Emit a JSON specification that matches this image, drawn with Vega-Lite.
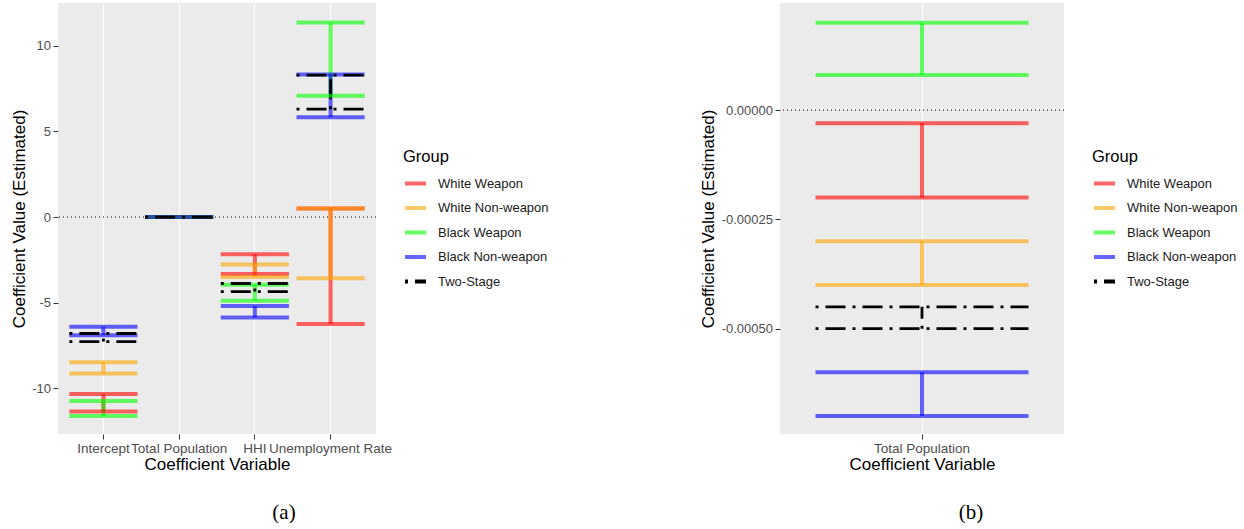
{
  "$schema": "https://vega.github.io/schema/vega-lite/v6.json",
  "background": "white",
  "padding": {"left": 10, "top": 3, "right": 0, "bottom": 0},
  "config": {
    "font": "Liberation Sans",
    "view": {"fill": "#EBEBEB", "stroke": null},
    "axis": {"domain": false, "gridColor": "white", "tickColor": "#333333", "tickSize": 5, "tickWidth": 1, "labelColor": "#4D4D4D", "labelFontSize": 13, "labelPadding": 2.5, "titleColor": "#000000", "titleFontSize": 17, "titleFontWeight": "normal", "titlePadding": 3.5},
    "axisX": {"labelFontSize": 13.5, "titlePadding": 1},
    "legend": {"orient": "none", "symbolType": "stroke", "symbolSize": 441, "symbolStrokeWidth": 4, "labelFontSize": 13, "labelColor": "#1A1A1A", "titleFontSize": 16.5, "titleFontWeight": "normal", "titleColor": "#000000", "rowPadding": 3.5, "titlePadding": 5.5, "padding": 0, "labelOffset": 10, "legendY": 146},
    "title": {"font": "Liberation Serif", "fontSize": 21, "fontWeight": "normal", "color": "#000000"}
  },
  "datasets": {
    "a": [
      {"variable": "Intercept", "group": "White Weapon", "lo": -11.35, "hi": -10.33},
      {"variable": "Intercept", "group": "White Non-weapon", "lo": -9.14, "hi": -8.48},
      {"variable": "Intercept", "group": "Black Weapon", "lo": -11.62, "hi": -10.74},
      {"variable": "Intercept", "group": "Black Non-weapon", "lo": -6.9, "hi": -6.41},
      {"variable": "Intercept", "group": "Two-Stage", "lo": -7.27, "hi": -6.8},
      {"variable": "Total Population", "group": "White Weapon", "lo": -0.0002, "hi": -0.00003},
      {"variable": "Total Population", "group": "White Non-weapon", "lo": -0.0004, "hi": -0.0003},
      {"variable": "Total Population", "group": "Black Weapon", "lo": 0.00008, "hi": 0.0002},
      {"variable": "Total Population", "group": "Black Non-weapon", "lo": -0.0007, "hi": -0.0006},
      {"variable": "Total Population", "group": "Two-Stage", "lo": -0.0005, "hi": -0.00045},
      {"variable": "HHI", "group": "White Weapon", "lo": -3.33, "hi": -2.18},
      {"variable": "HHI", "group": "White Non-weapon", "lo": -3.5, "hi": -2.77},
      {"variable": "HHI", "group": "Black Weapon", "lo": -4.89, "hi": -3.95},
      {"variable": "HHI", "group": "Black Non-weapon", "lo": -5.87, "hi": -5.2},
      {"variable": "HHI", "group": "Two-Stage", "lo": -4.35, "hi": -3.88},
      {"variable": "Unemployment Rate", "group": "White Weapon", "lo": -6.24, "hi": 0.5},
      {"variable": "Unemployment Rate", "group": "White Non-weapon", "lo": -3.58, "hi": 0.5},
      {"variable": "Unemployment Rate", "group": "Black Weapon", "lo": 7.09, "hi": 11.36},
      {"variable": "Unemployment Rate", "group": "Black Non-weapon", "lo": 5.83, "hi": 8.32},
      {"variable": "Unemployment Rate", "group": "Two-Stage", "lo": 6.3, "hi": 8.29}
    ],
    "b": [
      {"variable": "Total Population", "group": "White Weapon", "lo": -0.0002, "hi": -0.00003},
      {"variable": "Total Population", "group": "White Non-weapon", "lo": -0.0004, "hi": -0.0003},
      {"variable": "Total Population", "group": "Black Weapon", "lo": 0.00008, "hi": 0.0002},
      {"variable": "Total Population", "group": "Black Non-weapon", "lo": -0.0007, "hi": -0.0006},
      {"variable": "Total Population", "group": "Two-Stage", "lo": -0.0005, "hi": -0.00045}
    ]
  },
  "spacing": 150,
  "resolve": {"scale": {"x": "independent", "y": "independent", "color": "independent", "strokeDash": "independent"}, "legend": {"color": "independent", "strokeDash": "independent"}},
  "hconcat": [
    {
      "width": 318,
      "height": 431,
      "title": {"text": "(a)", "orient": "bottom", "frame": "group", "anchor": "middle", "dx": 67, "offset": 30},
      "layer": [
        {
          "data": {"values": [{}]},
          "mark": {"type": "rule", "color": "black", "strokeDash": [1, 3], "strokeWidth": 1},
          "encoding": {"y": {"datum": 0, "type": "quantitative"}}
        },
        {
          "data": {"name": "a"},
          "mark": {"type": "rule"},
          "encoding": {
            "x": {"field": "variable", "type": "nominal", "sort": ["Intercept", "Total Population", "HHI", "Unemployment Rate"], "scale": {"paddingInner": 0.1, "paddingOuter": 0.15}, "title": "Coefficient Variable", "axis": {"labelAngle": 0, "labelOverlap": false, "grid": true, "gridWidth": 1.1, "bandPosition": 0.5}},
            "y": {"field": "lo", "type": "quantitative", "scale": {"domain": [-12.67, 12.5], "nice": false, "zero": false}, "title": "Coefficient Value (Estimated)", "axis": {"values": [-12.5, -10, -7.5, -5, -2.5, 0, 2.5, 5, 7.5, 10, 12.5], "labelExpr": "datum.value % 5 === 0 ? '' + datum.value : ''", "gridWidth": {"condition": {"test": "datum.value % 5 === 0", "value": 1.1}, "value": 0.5}, "tickOpacity": {"condition": {"test": "datum.value % 5 === 0", "value": 1}, "value": 0}}},
            "y2": {"field": "hi"},
            "color": {"field": "group", "type": "nominal", "title": "Group", "scale": {"domain": ["White Weapon", "White Non-weapon", "Black Weapon", "Black Non-weapon", "Two-Stage"], "range": ["rgba(255,0,0,0.6)", "rgba(255,165,0,0.6)", "rgba(0,255,0,0.6)", "rgba(0,0,255,0.6)", "#000000"]}, "legend": {"legendX": 345}},
            "strokeDash": {"field": "group", "type": "nominal", "title": "Group", "scale": {"domain": ["White Weapon", "White Non-weapon", "Black Weapon", "Black Non-weapon", "Two-Stage"], "range": [[1, 0], [1, 0], [1, 0], [1, 0], [3, 7, 20, 7]]}, "legend": {"legendX": 345}},
            "strokeWidth": {"condition": {"test": "datum.group === 'Two-Stage'", "value": 2.8}, "value": 4}
          }
        },
        {
          "data": {"name": "a"},
          "mark": {"type": "rule"},
          "encoding": {
            "x": {"field": "variable", "type": "nominal", "sort": ["Intercept", "Total Population", "HHI", "Unemployment Rate"], "bandPosition": 0},
            "x2": {"field": "variable", "bandPosition": 1},
            "y": {"field": "lo", "type": "quantitative"},
            "color": {"field": "group", "type": "nominal"},
            "strokeDash": {"field": "group", "type": "nominal"},
            "strokeWidth": {"condition": {"test": "datum.group === 'Two-Stage'", "value": 2.8}, "value": 4}
          }
        },
        {
          "data": {"name": "a"},
          "mark": {"type": "rule"},
          "encoding": {
            "x": {"field": "variable", "type": "nominal", "sort": ["Intercept", "Total Population", "HHI", "Unemployment Rate"], "bandPosition": 0},
            "x2": {"field": "variable", "bandPosition": 1},
            "y": {"field": "hi", "type": "quantitative"},
            "color": {"field": "group", "type": "nominal"},
            "strokeDash": {"field": "group", "type": "nominal"},
            "strokeWidth": {"condition": {"test": "datum.group === 'Two-Stage'", "value": 2.8}, "value": 4}
          }
        }
      ]
    },
    {
      "width": 284,
      "height": 431,
      "title": {"text": "(b)", "orient": "bottom", "frame": "group", "anchor": "middle", "dx": 49, "offset": 30},
      "layer": [
        {
          "data": {"values": [{}]},
          "mark": {"type": "rule", "color": "black", "strokeDash": [1, 3], "strokeWidth": 1},
          "encoding": {"y": {"datum": 0, "type": "quantitative"}}
        },
        {
          "data": {"name": "b"},
          "mark": {"type": "rule"},
          "encoding": {
            "x": {"field": "variable", "type": "nominal", "scale": {"paddingInner": 0.1, "paddingOuter": 0.15}, "title": "Coefficient Variable", "axis": {"labelAngle": 0, "labelOverlap": false, "grid": true, "gridWidth": 1.1, "bandPosition": 0.5}},
            "y": {"field": "lo", "type": "quantitative", "scale": {"domain": [-0.000741, 0.000245], "nice": false, "zero": false}, "title": "Coefficient Value (Estimated)", "axis": {"values": [0.000125, 0, -0.000125, -0.00025, -0.000375, -0.0005, -0.000625], "labelExpr": "abs(datum.value * 4000 - round(datum.value * 4000)) < 0.001 ? replace(format(datum.value, '.5f'), '\u2212', '-') : ''", "gridWidth": {"condition": {"test": "abs(datum.value * 4000 - round(datum.value * 4000)) < 0.001", "value": 1.1}, "value": 0.5}, "tickOpacity": {"condition": {"test": "abs(datum.value * 4000 - round(datum.value * 4000)) < 0.001", "value": 1}, "value": 0}}},
            "y2": {"field": "hi"},
            "color": {"field": "group", "type": "nominal", "title": "Group", "scale": {"domain": ["White Weapon", "White Non-weapon", "Black Weapon", "Black Non-weapon", "Two-Stage"], "range": ["rgba(255,0,0,0.6)", "rgba(255,165,0,0.6)", "rgba(0,255,0,0.6)", "rgba(0,0,255,0.6)", "#000000"]}, "legend": {"legendX": 312}},
            "strokeDash": {"field": "group", "type": "nominal", "title": "Group", "scale": {"domain": ["White Weapon", "White Non-weapon", "Black Weapon", "Black Non-weapon", "Two-Stage"], "range": [[1, 0], [1, 0], [1, 0], [1, 0], [3, 7, 20, 7]]}, "legend": {"legendX": 312}},
            "strokeWidth": {"condition": {"test": "datum.group === 'Two-Stage'", "value": 2.8}, "value": 4}
          }
        },
        {
          "data": {"name": "b"},
          "mark": {"type": "rule"},
          "encoding": {
            "x": {"field": "variable", "type": "nominal", "bandPosition": 0},
            "x2": {"field": "variable", "bandPosition": 1},
            "y": {"field": "lo", "type": "quantitative"},
            "color": {"field": "group", "type": "nominal"},
            "strokeDash": {"field": "group", "type": "nominal"},
            "strokeWidth": {"condition": {"test": "datum.group === 'Two-Stage'", "value": 2.8}, "value": 4}
          }
        },
        {
          "data": {"name": "b"},
          "mark": {"type": "rule"},
          "encoding": {
            "x": {"field": "variable", "type": "nominal", "bandPosition": 0},
            "x2": {"field": "variable", "bandPosition": 1},
            "y": {"field": "hi", "type": "quantitative"},
            "color": {"field": "group", "type": "nominal"},
            "strokeDash": {"field": "group", "type": "nominal"},
            "strokeWidth": {"condition": {"test": "datum.group === 'Two-Stage'", "value": 2.8}, "value": 4}
          }
        }
      ]
    }
  ]
}
